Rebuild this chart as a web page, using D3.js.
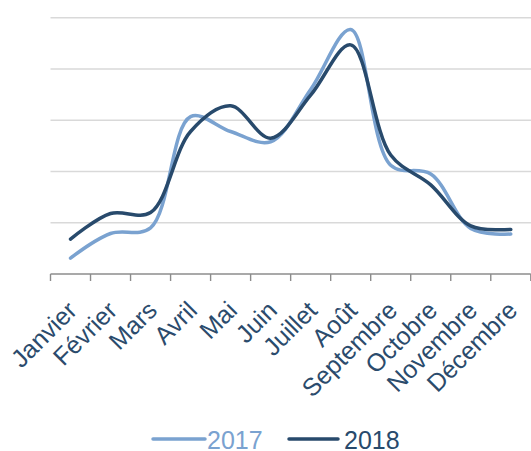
<!DOCTYPE html>
<html>
<head>
<meta charset="utf-8">
<script src="https://cdn.jsdelivr.net/npm/d3@7"></script>
<style>
  html, body { margin: 0; padding: 0; background: #fff; }
  svg { display: block; }
  text { font-family: "Liberation Sans", Arial, sans-serif; }
</style>
</head>
<body>
<svg id="chart" width="531" height="451"></svg>
<script>
const months = ["Janvier", "Février", "Mars", "Avril", "Mai", "Juin", "Juillet", "Août", "Septembre", "Octobre", "Novembre", "Décembre"];
const values2017 = [0.31, 0.79, 0.90, 3.07, 2.78, 2.58, 3.60, 4.77, 2.12, 1.95, 0.89, 0.78];
const values2018 = [0.68, 1.18, 1.20, 2.78, 3.28, 2.65, 3.49, 4.47, 2.32, 1.74, 0.94, 0.87];
const seriesNames = ["2017", "2018"];
const gridValues = [1, 2, 3, 4, 5];

const colors = { "2017": "#7aa2d0", "2018": "#284a6c" };
const labelColor = "#2b4b6c";

const svg = d3.select("#chart");
const plotLeft = 50.5, plotRight = 530.8, plotTop = 17.7, plotBottom = 274;

const x = d3.scaleBand().domain(months).range([plotLeft, plotRight]).padding(0);
const y = d3.scaleLinear().domain([0, 5]).range([plotBottom, plotTop]);

// gridlines
svg.append("g").selectAll("line").data(gridValues).join("line")
  .attr("x1", plotLeft).attr("x2", 531)
  .attr("y1", d => y(d)).attr("y2", d => y(d))
  .attr("stroke", "#d9d9d9").attr("stroke-width", 1.4);

// x axis
const axis = svg.append("g").attr("transform", `translate(0,${plotBottom})`);
axis.append("line").attr("x1", plotLeft).attr("x2", plotRight).attr("y1", 0).attr("y2", 0)
  .attr("stroke", "#8c8c8c").attr("stroke-width", 1.4);
const tickPos = months.map(m => x(m)).concat([x(months[months.length - 1]) + x.bandwidth()]);
axis.selectAll("line.tick").data(tickPos).join("line").attr("class", "tick")
  .attr("x1", d => d).attr("x2", d => d).attr("y1", 0).attr("y2", 7)
  .attr("stroke", "#8c8c8c").attr("stroke-width", 1.4);

svg.append("g").selectAll("text").data(months).join("text")
  .attr("transform", d => `translate(${x(d) + x.bandwidth() / 2 + 8},312) rotate(-45)`)
  .attr("text-anchor", "end")
  .attr("fill", labelColor)
  .attr("font-size", 25)
  .text(d => d);

// lines
const line = d3.line()
  .x((d, i) => x(months[i]) + x.bandwidth() / 2)
  .y(d => y(d))
  .curve(d3.curveCatmullRom.alpha(0.5));

const data = { "2017": values2017, "2018": values2018 };
seriesNames.forEach(name => {
  svg.append("path").datum(data[name])
    .attr("d", line)
    .attr("fill", "none")
    .attr("stroke", colors[name])
    .attr("stroke-width", 3.5)
    .attr("stroke-linecap", "round")
    .attr("stroke-linejoin", "round");
});

// legend
const legendItems = [
  { name: "2017", x1: 153, x2: 205, tx: 207 },
  { name: "2018", x1: 289, x2: 338, tx: 344 }
];
const lg = svg.append("g");
legendItems.forEach(it => {
  lg.append("line").attr("x1", it.x1).attr("x2", it.x2).attr("y1", 439).attr("y2", 439)
    .attr("stroke", colors[it.name]).attr("stroke-width", 3.5).attr("stroke-linecap", "round");
  lg.append("text").attr("x", it.tx).attr("y", 449)
    .attr("fill", colors[it.name]).attr("font-size", 25).text(it.name);
});
</script>
</body>
</html>
